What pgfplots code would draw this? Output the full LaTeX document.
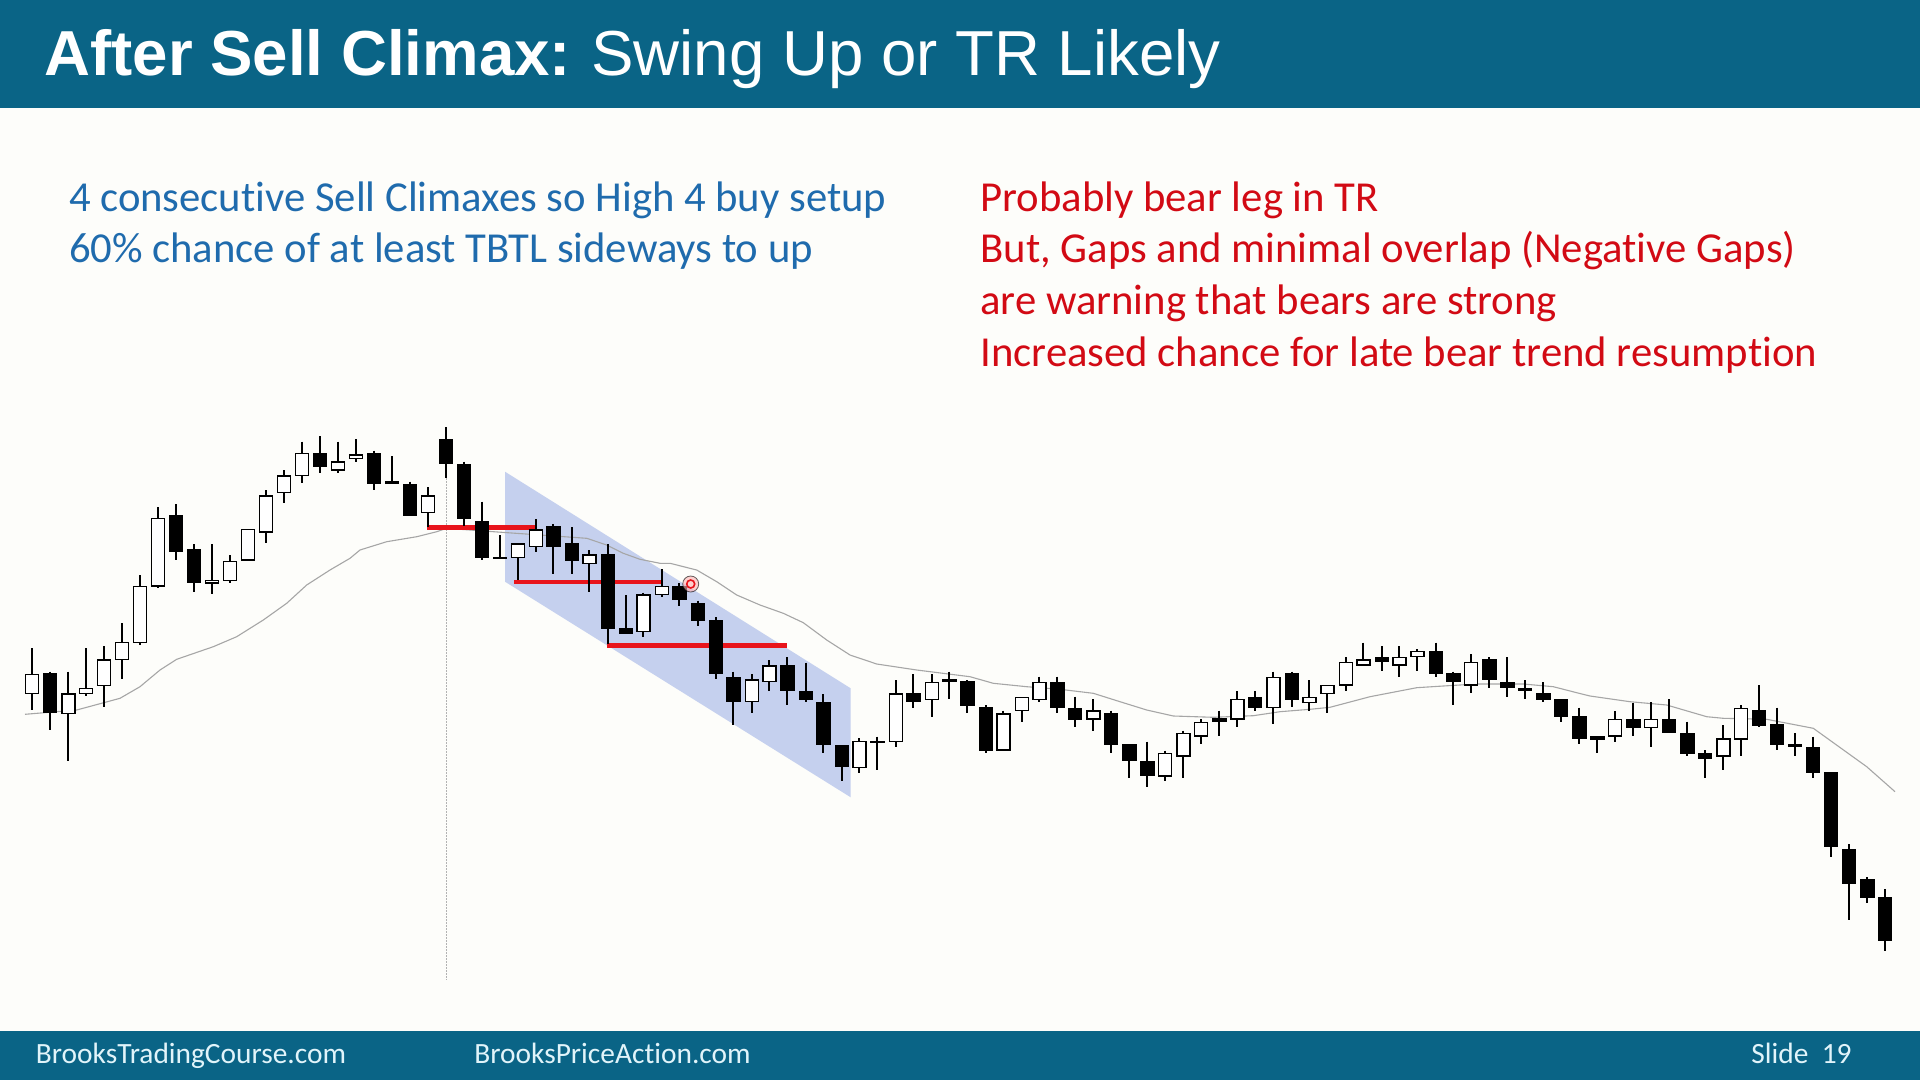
\documentclass[border=0pt]{standalone}
\usepackage{pgfplots}
\pgfplotsset{compat=1.18}
\usepackage{pgfplotstable}
\usepackage{fontspec}
\newfontfamily\arialfont{Liberation Sans}
\newfontfamily\calfont[Ligatures=NoCommon]{Carlito}
\definecolor{barblue}{RGB}{10,100,134}
\definecolor{txtblue}{RGB}{31,107,173}
\definecolor{txtred}{RGB}{210,10,20}
\definecolor{chan}{RGB}{197,208,238}
\definecolor{redline}{RGB}{232,20,27}
\definecolor{bg}{RGB}{253,253,250}
\definecolor{foottxt}{RGB}{225,244,250}
\pgfdeclareplotmark{nomark}{}

% candles: x position, open, high, low, close (pixel rows, measured from the top)
\pgfplotstableread{
x o h l c
32 693.3 648.3 710 674.3
50 674 671.7 730 712.7
68.3 713.3 671.7 760.7 694
86 693.3 648.3 696 688.3
104 685.3 646 706.7 660
121.7 659.3 623.3 678.7 642.7
140 642.3 575 645 586.7
157.7 586 507.3 588.3 518.7
176 515.7 504.3 560 551.7
193.7 549.3 544 591.7 582.7
211.7 583 544 594 580.7
230 580.3 555 582.7 561.3
248 560 529.7 560 529.7
265.7 532 490 543.3 496
284 492.3 470 503.3 476
302 475.3 441.7 483.3 453.3
320 453.3 436 472.7 466.7
337.7 470 441.7 472.7 462
356 458.3 439.3 461.7 455
374 453.3 450.7 490 483.3
391.7 481.7 456 483.3 483.3
410 484.3 481.7 515 515
427.7 512.7 487.3 527.3 496
446 439.3 427.3 478.3 463.3
464 464.3 461.7 526 518.3
481.7 521.7 501.7 560 557.3
500 557.3 535 558.3 558.3
517.7 557.3 544 580 544
535.7 546.7 519 551.7 530
553.3 526.7 524.3 574 546
571.7 544 527.3 574 560
589.3 563.3 550 591.7 555
607.7 555 544 644 628.3
625.7 628.3 595 633.3 633.3
643.3 631.7 592.7 636.7 595
661.7 594.3 569.3 597.3 586.7
679.3 586.7 583.3 606 599.3
697.7 603.3 600.7 625.7 620
715.7 620.7 617.3 679.3 673.3
733.3 677.3 671.7 725 701.7
751.7 701.7 674 713.3 680
769.3 681.7 660 690.7 666
787.3 666 657.3 705 690.7
805.7 691.7 662.7 701.7 699.3
823.3 702.3 694 752.7 744
841.7 745.7 745.7 781 766.7
859.3 767.3 738.3 772.7 741.7
877.3 742.7 736.7 770 741.7
895.7 741.7 680 746.7 694
913.3 694 674 708.3 701.7
931.7 699.3 674 716.7 682.3
949.3 681.3 671.7 699.3 680
967.3 681.7 680 713.3 705
985.7 707.3 705 752.7 750
1003.3 750 710.7 750 714
1021.7 710.7 697.3 721.7 697.3
1039.3 699.3 676.7 701.7 682.3
1057.3 682.3 676.7 713.3 707.3
1075 708.3 696.7 727.3 719
1093.3 719 699.3 730.7 711
1111 714 710.7 752.7 744
1129.3 745 745 778.3 760.7
1147.3 761.7 741.7 786.7 775.7
1165 776 750.7 781 753.3
1183.3 756 730.7 778.3 733.3
1201 736 719 744.3 722.3
1219.3 721 710.7 736 719
1237.3 719 691 727.3 699.3
1255 697.3 691 710.7 707.3
1273.3 707.3 671.7 724.3 677.3
1291.7 674 671.7 707.3 699
1309.3 702.3 680 710.7 697.3
1327.3 693.3 685.7 713.3 685.7
1345.7 685 657.3 690.7 662.7
1363.3 665 642.7 665 660
1381.7 657.7 646 671 661.7
1399.3 665 646 676.7 657.7
1417.3 656.7 649 671 651.7
1435.7 651.7 642.7 676.7 673.3
1453.3 674 671.7 705 681.7
1471 685 654.3 693.3 662.7
1489.3 660 657.3 687.7 679.3
1507.3 682.3 657.3 696.7 687.7
1525 688.3 680 699.3 690.7
1543.3 694 682.3 701.7 699.3
1561 699.3 699.3 721.7 716
1579.3 716.7 707.7 744.3 738.3
1597.3 736.7 736.7 752.7 739
1615 736 711 741.7 719.3
1633.3 719.3 702.7 736 727.3
1651 727.3 702.3 747.3 719.3
1669 719.3 699.3 732.7 732.7
1687.3 733.3 721.7 756 753.3
1705 753.3 750 778.3 758.3
1723.3 756 725 770 739
1741 739 705 756 708.3
1759 711 685 727.3 725
1776.7 725 707.7 750 744.3
1795 745 733.3 756 746.7
1812.7 747.3 736.7 778.3 772.7
1830.7 772.7 772.7 857.3 846.7
1849 849.3 844 920 883.3
1867.3 880 877.3 902.7 897.3
1885 897.3 889.3 950.7 940
}\candles

\begin{document}
\begin{tikzpicture}
\begin{axis}[
  x=0.5pt, y=0.5pt, y dir=reverse,
  xmin=0, xmax=1920, ymin=0, ymax=1080,
  hide axis, clip=false, scale only axis,
]
% slide background and bars
\fill[bg] (axis cs:0,0) rectangle (axis cs:1920,1080);
\fill[barblue] (axis cs:0,0) rectangle (axis cs:1920,108);
\fill[barblue] (axis cs:0,1031) rectangle (axis cs:1920,1080);

% title
\node[anchor=base west, inner sep=0pt, text=white, font=\arialfont\fontsize{31.8}{38}\selectfont]
  at (axis cs:44,76) {\textbf{After Sell Climax:}\hspace{0.32em}Swing Up or TR Likely};

% text blocks
\node[anchor=base west, inner sep=0pt, text=txtblue, font=\calfont\fontsize{21.35}{25}\selectfont]
  at (axis cs:68.6,211.5) {4 consecutive Sell Climaxes so High 4 buy setup};
\node[anchor=base west, inner sep=0pt, text=txtblue, font=\calfont\fontsize{21.35}{25}\selectfont]
  at (axis cs:68.6,263) {60\% chance of at least TBTL sideways to up};
\node[anchor=base west, inner sep=0pt, text=txtred, font=\calfont\fontsize{21.35}{25}\selectfont]
  at (axis cs:980,211.5) {Probably bear leg in TR};
\node[anchor=base west, inner sep=0pt, text=txtred, font=\calfont\fontsize{21.35}{25}\selectfont]
  at (axis cs:980,263) {But, Gaps and minimal overlap (Negative Gaps)};
\node[anchor=base west, inner sep=0pt, text=txtred, font=\calfont\fontsize{21.35}{25}\selectfont]
  at (axis cs:980,314.5) {are warning that bears are strong};
\node[anchor=base west, inner sep=0pt, text=txtred, font=\calfont\fontsize{21.35}{25}\selectfont]
  at (axis cs:980,366) {Increased chance for late bear trend resumption};

% footer
\node[anchor=base west, inner sep=0pt, text=foottxt, font=\calfont\fontsize{14.7}{17}\selectfont]
  at (axis cs:35.5,1063) {BrooksTradingCourse.com};
\node[anchor=base west, inner sep=0pt, text=foottxt, font=\calfont\fontsize{14.7}{17}\selectfont]
  at (axis cs:474,1063) {BrooksPriceAction.com};
\node[anchor=base west, inner sep=0pt, text=foottxt, font=\calfont\fontsize{14.7}{17}\selectfont]
  at (axis cs:1751,1063) {Slide\ \ 19};

% channel
\addplot[fill=chan, draw=none] coordinates {(505,471.7) (850.7,688.3) (850.7,797.3) (505,581.7)} --cycle;

% moving average
\addplot[color=black!35, line width=0.55pt] coordinates {
(25,714.3) (76.7,710) (120,698.3) (140,686.7) (160,670) (176.7,659.3) (213.3,646.7) (236.7,636.7)
(263.3,620) (286.7,603.3) (306.7,585) (330,570) (350,558.3) (360,550) (386.7,541.7) (416.7,536.7)
(436.7,531.7) (446.7,528.3) (493.3,531.7) (540,535) (586.7,538.3) (606.7,545) (623.3,553.3)
(640,559.3) (660,563.3) (670,563.3) (696.7,570) (716.7,581.7) (736.7,595) (760,605) (783.3,613.3)
(803.3,622.7) (826.7,640) (850,655) (876.7,664) (916.7,670) (970,676.7) (993.3,683.3)
(1026.7,686.7) (1060,689.3) (1093.3,693.3) (1120,701.7) (1146.7,710) (1173.3,716) (1213.3,717.3)
(1253.3,715.7) (1280,711.7) (1310,709.3) (1330,707.3) (1370,696.7) (1416.7,687.7) (1443.3,686)
(1476.7,684) (1523.3,684) (1553.3,686.7) (1576.7,692.7) (1590,696) (1630,701.7) (1666.7,705)
(1706.7,716.7) (1723.3,718.3) (1766.7,719.3) (1813.3,728.3) (1866.7,766.7) (1895,791.7)};

% vertical marker line
\addplot[color=black!30, line width=0.5pt, dash pattern=on 1pt off 0.5pt] coordinates {(446,478) (446,980)};

% candles
\addplot[scatter, only marks, mark=nomark,
  visualization depends on={\thisrow{o}-\thisrow{h} \as \dopen},
  visualization depends on={\thisrow{c}-\thisrow{h} \as \dclose},
  visualization depends on={\thisrow{l}-\thisrow{h} \as \dlow},
  scatter/@pre marker code/.code={%
    \begingroup
    \pgfkeys{/pgf/fpu=true,/pgf/fpu/output format=fixed}%
    \pgfmathparse{-0.5*\dopen}\xdef\yo{\pgfmathresult}%
    \pgfmathparse{-0.5*\dclose}\xdef\yc{\pgfmathresult}%
    \pgfmathparse{-0.5*\dlow}\xdef\yl{\pgfmathresult}%
    \endgroup
    \draw[black, line width=0.9pt] (0pt,0pt) -- (0pt,\yl pt);%
    \ifdim\yc pt>\yo pt
      \filldraw[fill=white, draw=black, line width=0.7pt] (-3.25pt,\yo pt) rectangle (3.25pt,\yc pt);%
    \else
      \filldraw[fill=black, draw=black, line width=0.7pt] (-3.25pt,\yo pt) rectangle (3.25pt,\yc pt);%
    \fi
  },
  scatter/@post marker code/.code={},
] table[x=x, y=h] {\candles};

% red lines
\addplot[redline, line width=2.2pt] coordinates {(427.3,527.5) (535,527.5)};
\addplot[redline, line width=2.2pt] coordinates {(514,582) (663,582)};
\addplot[redline, line width=2.2pt] coordinates {(606.7,645.5) (786.7,645.5)};

% cursor highlight
\addplot[only marks, mark=*, mark size=4pt, mark options={fill=red!30, draw=none, opacity=0.6}] coordinates {(690.7,584)};
\addplot[only marks, mark=o, mark size=2pt, mark options={draw=redline, line width=0.8pt, fill=white}] coordinates {(690.7,584)};
\end{axis}
\end{tikzpicture}
\end{document}
